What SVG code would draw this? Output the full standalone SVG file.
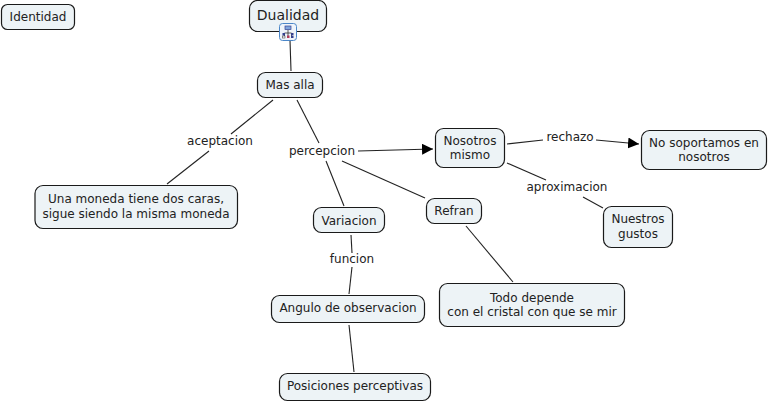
<svg xmlns="http://www.w3.org/2000/svg" width="769" height="403" viewBox="0 0 769 403">
<style>
text{font-family:"DejaVu Sans",Verdana,sans-serif;font-size:12px;fill:#222;text-anchor:middle}
.n{fill:#edf3f6;stroke:#1a1a1a;stroke-width:1.2}
.c{fill:none;stroke:#222;stroke-width:1.1}
</style>
<defs><marker id="a" markerUnits="userSpaceOnUse" markerWidth="12" markerHeight="12" refX="11" refY="5.500" orient="auto"><path d="M0,0L11,5.500L0,11Z" fill="#000"/></marker></defs>
<rect width="769" height="403" fill="#fff"/>
<g id="connectors">
<path class="c" d="M290 40L291 71"/>
<path class="c" d="M273 100L231 134"/>
<path class="c" d="M209 151L167 184"/>
<path class="c" d="M297 100L319 143"/>
<path class="c" d="M358 151L433 149" marker-end="url(#a)"/>
<path class="c" d="M326 161L344 206"/>
<path class="c" d="M342 161L425 198"/>
<path class="c" d="M507 144L543 140"/>
<path class="c" d="M596 140L639 144" marker-end="url(#a)"/>
<path class="c" d="M507 163L546 180"/>
<path class="c" d="M583 197L603 208"/>
<path class="c" d="M466 226L513 282"/>
<path class="c" d="M351 235L352 253"/>
<path class="c" d="M352 267L349 294"/>
<path class="c" d="M349 325L354 372"/>
</g>
<g id="n1"><rect class="n" x="1.500" y="4.500" width="73" height="25" rx="6"/><text x="38" y="21">Identidad</text></g>
<g id="n2"><rect class="n" x="249.500" y="0.500" width="77" height="31" rx="8"/><text x="288" y="20" style="font-size:14px">Dualidad</text></g>
<g id="icon"><rect x="279.500" y="23.500" width="17" height="17" rx="3" fill="#eef4fb" stroke="#4a86c8"/><path d="M288 30v3M284.500 33h7M284.500 33v3M291.500 33v3M288 33v3" stroke="#333" stroke-width=".8" fill="none"/><rect x="285" y="26" width="6" height="3.500" fill="#7fa5dd" stroke="#33408f" stroke-width=".7"/><rect x="282.500" y="33" width="2.500" height="2.500" fill="#33408f"/><rect x="291" y="33" width="2.500" height="2.500" fill="#33408f"/><rect x="287" y="35.500" width="2.500" height="2.500" fill="#b33a5a"/><rect x="282.500" y="36" width="2.500" height="2" fill="#fff" stroke="#333" stroke-width=".5"/><rect x="291" y="36" width="2.500" height="2" fill="#33408f"/></g>
<g id="n3"><rect class="n" x="257.500" y="72.500" width="65" height="25" rx="8"/><text x="290" y="89">Mas alla</text></g>
<g id="n4"><text x="220" y="145">aceptacion</text></g>
<g id="n5"><text x="322" y="155">percepcion</text></g>
<g id="n6"><rect class="n" x="35" y="185.500" width="202.500" height="43" rx="8"/><text x="136" y="203">Una moneda tiene dos caras,</text><text x="136" y="218">sigue siendo la misma moneda</text></g>
<g id="n7"><rect class="n" x="435.500" y="128.500" width="69" height="39" rx="8"/><text x="470" y="145">Nosotros</text><text x="470" y="159">mismo</text></g>
<g id="n8"><text x="570" y="141">rechazo</text></g>
<g id="n9"><rect class="n" x="641.500" y="130.500" width="125" height="39" rx="8"/><text x="704" y="147">No soportamos en</text><text x="704" y="161">nosotros</text></g>
<g id="n10"><text x="567" y="191">aproximacion</text></g>
<g id="n11"><rect class="n" x="603.500" y="206.500" width="69" height="41" rx="8"/><text x="638" y="223">Nuestros</text><text x="638" y="238">gustos</text></g>
<g id="n12"><rect class="n" x="313.500" y="207.500" width="71" height="25" rx="8"/><text x="349" y="225">Variacion</text></g>
<g id="n13"><rect class="n" x="426.500" y="198.500" width="55" height="25" rx="8"/><text x="454" y="215">Refran</text></g>
<g id="n14"><text x="352" y="263">funcion</text></g>
<g id="n15"><rect class="n" x="271.500" y="295.500" width="153" height="27" rx="8"/><text x="348" y="312">Angulo de observacion</text></g>
<g id="n16"><rect class="n" x="439.500" y="283.500" width="185" height="43" rx="8"/><text x="532" y="302">Todo depende</text><text x="532" y="316">con el cristal con que se mir</text></g>
<g id="n17"><rect class="n" x="279.500" y="373.500" width="151" height="27" rx="8"/><text x="355" y="390">Posiciones perceptivas</text></g>
</svg>
